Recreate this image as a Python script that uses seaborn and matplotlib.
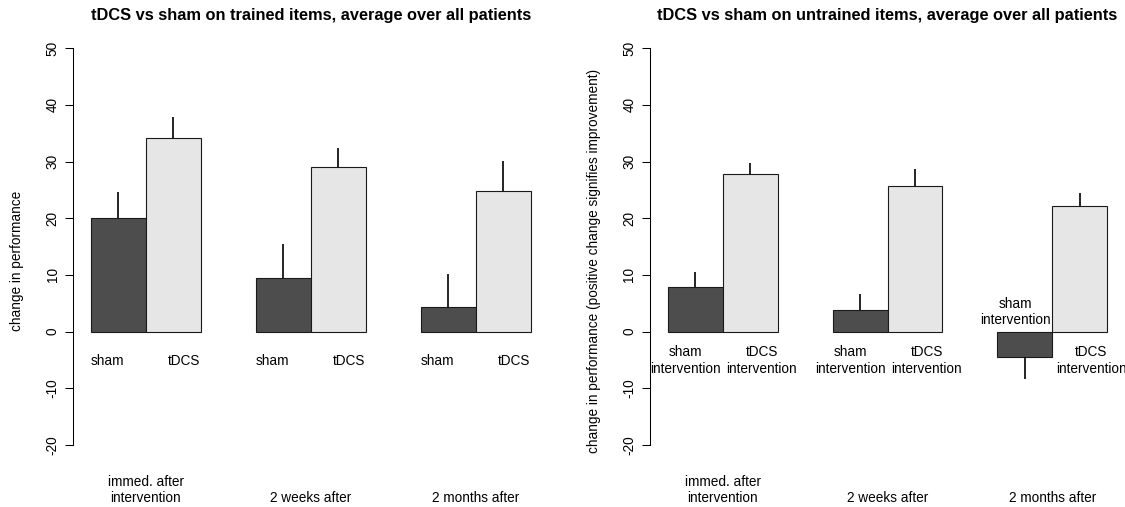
"""tDCS vs sham bar charts (trained / untrained items), rebuilt with seaborn."""
import numpy as np
import pandas as pd
import matplotlib
matplotlib.use('Agg')
import matplotlib.pyplot as plt
import seaborn as sns

# groups along the x axis
groups = ['immed. after\nintervention', '2 weeks after', '2 months after']
conditions = ['sham', 'tDCS']

# trained items: mean change and (one-sided) error bar length
trained_sham = [20.0, 9.5, 4.3]
trained_tdcs = [34.2, 29.0, 24.8]
trained_sham_err = [4.6, 6.0, 5.9]
trained_tdcs_err = [3.6, 3.4, 5.4]

# untrained items
untrained_sham = [7.9, 3.8, -4.5]
untrained_tdcs = [27.85, 25.75, 22.1]
untrained_sham_err = [2.6, 2.9, 3.9]
untrained_tdcs_err = [1.95, 2.9, 2.3]

titles = ['tDCS vs sham on trained items, average over all patients',
          'tDCS vs sham on untrained items, average over all patients']
ylabels = ['change in performance',
           'change in performance (positive change signifies improvement)']
yticks = [-20, -10, 0, 10, 20, 30, 40, 50]

PALETTE = {'sham': '#4d4d4d', 'tDCS': '#e6e6e6'}
FS = 9.8


def make_frame(sham, tdcs, sham_err, tdcs_err):
    rows = []
    for gi in range(len(groups)):
        for ci, (cond, vals, errs) in enumerate(
                [('sham', sham, sham_err), ('tDCS', tdcs, tdcs_err)]):
            rows.append({'group': gi, 'cond': cond, 'pos': 3 * gi + 1.5 + ci,
                         'value': vals[gi], 'err': errs[gi]})
    return pd.DataFrame(rows)


def draw_panel(ax, df, title, ylabel, long_labels):
    sns.barplot(data=df, x='pos', y='value', hue='cond', palette=PALETTE,
                native_scale=True, dodge=False, width=1, errorbar=None,
                saturation=1, edgecolor='#1a1a1a', linewidth=0.8,
                legend=False, ax=ax)

    # one-sided error bars pointing away from zero
    tips = df['value'] + np.sign(df['value']) * df['err']
    ax.vlines(df['pos'], df['value'], tips, color='black', lw=1.2)

    ax.set_xlim(0.68, 9.32)
    ax.set_ylim(-28, 53)
    ax.set_xticks([])
    ax.set_xlabel('')
    ax.set_yticks(yticks)
    ax.set_yticklabels([str(t) for t in yticks], rotation=90, va='center')
    ax.tick_params(axis='y', left=True, length=5.8, width=0.75, pad=4,
                   labelsize=FS, colors='black')
    for side in ['top', 'right', 'bottom']:
        ax.spines[side].set_visible(False)
    ax.spines['left'].set_bounds(-20, 50)
    ax.spines['left'].set_linewidth(0.75)
    ax.spines['left'].set_color('black')

    ax.set_title(title, fontsize=11.8, fontweight='bold', pad=8)
    ax.set_ylabel(ylabel, fontsize=FS, va='center')
    ax.yaxis.set_label_coords(-0.119, 0.5)

    # condition labels under / over the bars
    for gi in range(len(groups)):
        gc = 3 * gi + 2
        sham_val = df[(df.group == gi) & (df.cond == 'sham')]['value'].iloc[0]
        if long_labels:
            y_sham = -5.1 if sham_val >= 0 else 3.4
            ax.text(gc - 0.68, y_sham, 'sham\nintervention', ha='center',
                    va='center', fontsize=FS, linespacing=1.2)
            ax.text(gc + 0.71, -5.1, 'tDCS\nintervention', ha='center',
                    va='center', fontsize=FS, linespacing=1.2, clip_on=False)
        else:
            ax.text(gc - 0.70, -5.2, 'sham', ha='center', va='center', fontsize=FS)
            ax.text(gc + 0.70, -5.2, 'tDCS', ha='center', va='center', fontsize=FS)

        # group names below the plot
        n_lines = groups[gi].count('\n') + 1
        ax.text(gc, -29.4 + (n_lines - 1) * 1.47, groups[gi], ha='center',
                va='center', fontsize=FS, linespacing=1.2, clip_on=False)


def main():
    sns.set_style('white')
    plt.rcParams['font.family'] = ['Liberation Sans', 'DejaVu Sans']
    plt.rcParams['text.color'] = 'black'
    plt.rcParams['axes.labelcolor'] = 'black'

    fig = plt.figure(figsize=(11.25, 5.07), dpi=100)
    ax1 = fig.add_axes([0.0652, 0.0329, 0.4222, 0.9053])
    ax2 = fig.add_axes([0.5778, 0.0329, 0.4222, 0.9053])

    df_trained = make_frame(trained_sham, trained_tdcs, trained_sham_err, trained_tdcs_err)
    df_untrained = make_frame(untrained_sham, untrained_tdcs, untrained_sham_err, untrained_tdcs_err)

    draw_panel(ax1, df_trained, titles[0], ylabels[0], long_labels=False)
    draw_panel(ax2, df_untrained, titles[1], ylabels[1], long_labels=True)

    fig.savefig('out.png', dpi=100, facecolor='white')
    plt.close(fig)


if __name__ == "__main__":
    main()
